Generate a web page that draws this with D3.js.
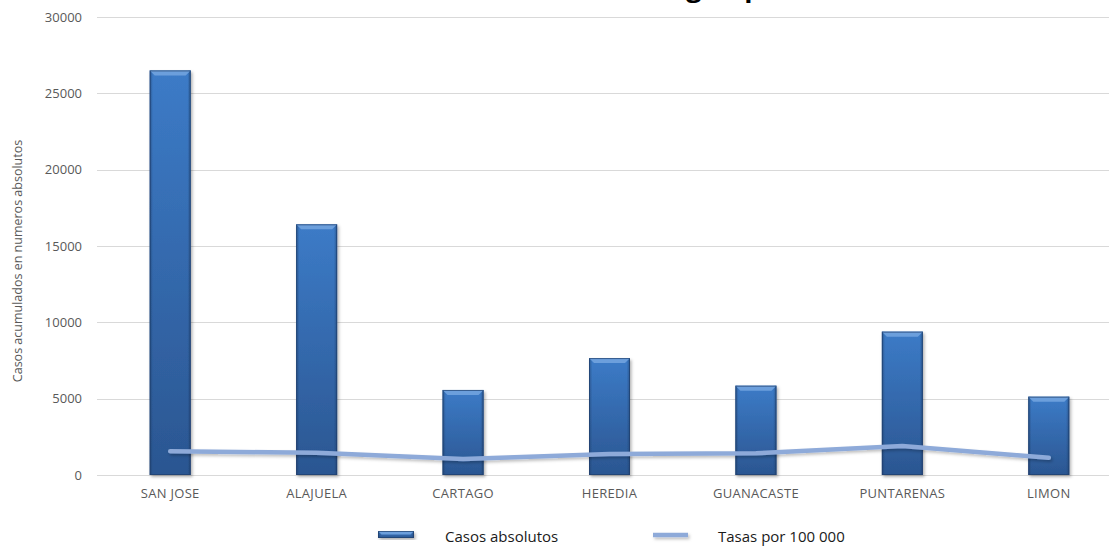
<!DOCTYPE html>
<html>
<head>
<meta charset="utf-8">
<script src="https://cdn.jsdelivr.net/npm/d3@7/dist/d3.min.js"></script>
<style>
  html, body { margin: 0; padding: 0; background: #fff; }
  svg { display: block; }
  text { font-family: "Open Sans", "DejaVu Sans", sans-serif; }
</style>
</head>
<body>
<svg id="chart" width="1109" height="546"></svg>
<script>
const categories = ["SAN JOSE", "ALAJUELA", "CARTAGO", "HEREDIA", "GUANACASTE", "PUNTARENAS", "LIMON"];
const casosAbsolutos = [26500, 16420, 5570, 7660, 5850, 9390, 5130];
const tasasPor100000 = [1550, 1460, 1050, 1375, 1420, 1900, 1130];
const yTicks = [0, 5000, 10000, 15000, 20000, 25000, 30000];
const titleLeft = "Casos acumulados de COVID-19,";
const titleRight = "según provincia del caso, 2020";
const yTitle = "Casos acumulados en numeros absolutos";
const legendLabels = ["Casos absolutos", "Tasas por 100 000"];

const svg = d3.select("#chart");
const W = 1109, H = 546;
const x = d3.scaleBand().domain(categories).range([97, 1122]).paddingInner(0.72).paddingOuter(0.36);
const y = d3.scaleLinear().domain([0, 30000]).range([475, 17]);

const defs = svg.append("defs");
const grad = defs.append("linearGradient").attr("id", "barGrad").attr("x1", 0).attr("y1", 0).attr("x2", 0).attr("y2", 1);
grad.append("stop").attr("offset", "0%").attr("stop-color", "#3c7bc7");
grad.append("stop").attr("offset", "100%").attr("stop-color", "#2b5691");
const sideGrad = defs.append("linearGradient").attr("id", "sideGrad").attr("x1", 0).attr("y1", 0).attr("x2", 1).attr("y2", 0);
sideGrad.append("stop").attr("offset", "0%").attr("stop-color", "#1d3c66").attr("stop-opacity", 0.55);
sideGrad.append("stop").attr("offset", "8%").attr("stop-color", "#1d3c66").attr("stop-opacity", 0);
sideGrad.append("stop").attr("offset", "92%").attr("stop-color", "#1d3c66").attr("stop-opacity", 0);
sideGrad.append("stop").attr("offset", "100%").attr("stop-color", "#1d3c66").attr("stop-opacity", 0.55);
const sh = defs.append("filter").attr("id", "shadow").attr("x", "-20%").attr("y", "-20%").attr("width", "140%").attr("height", "140%");
sh.append("feDropShadow").attr("dx", 1.5).attr("dy", 2).attr("stdDeviation", 1.5).attr("flood-color", "#000").attr("flood-opacity", 0.3);
const sh2 = defs.append("filter").attr("id", "shadowU").attr("filterUnits", "userSpaceOnUse")
  .attr("x", 0).attr("y", 0).attr("width", W).attr("height", H);
sh2.append("feDropShadow").attr("dx", 1.5).attr("dy", 2).attr("stdDeviation", 1.5).attr("flood-color", "#000").attr("flood-opacity", 0.25);

// title (mostly cut off at top, as in the reference)
svg.append("text").attr("x", 614).attr("y", -3.5).attr("text-anchor", "end")
  .attr("font-size", 27).attr("font-weight", "bold").attr("fill", "#000").text(titleLeft);
svg.append("text").attr("x", 657).attr("y", -3.5).attr("text-anchor", "start")
  .attr("font-size", 27).attr("font-weight", "bold").attr("fill", "#000").text(titleRight);

// gridlines
svg.append("g").selectAll("line").data(yTicks).join("line")
  .attr("x1", 97).attr("x2", W).attr("y1", d => Math.round(y(d)) + 0.5).attr("y2", d => Math.round(y(d)) + 0.5)
  .attr("stroke", "#d9d9d9").attr("stroke-width", 1);

// y axis
const yAxis = svg.append("g").attr("transform", "translate(90,0)")
  .call(d3.axisLeft(y).tickValues(yTicks).tickSize(0).tickPadding(8).tickFormat(d3.format("d")));
yAxis.select(".domain").remove();
yAxis.selectAll("text").attr("font-size", 13).attr("fill", "#595959")
  .attr("font-family", "'Open Sans', sans-serif");

svg.append("text").attr("transform", "translate(22,261) rotate(-90)").attr("text-anchor", "middle")
  .attr("font-size", 12.5).attr("fill", "#595959").text(yTitle);

// x axis labels
const xAxis = svg.append("g").attr("transform", "translate(0,475)")
  .call(d3.axisBottom(x).tickSize(0).tickPadding(14));
xAxis.select(".domain").remove();
xAxis.selectAll("text").attr("font-size", 13).attr("fill", "#595959").attr("letter-spacing", "0.3px")
  .attr("font-family", "'Open Sans', sans-serif");

// bars
function drawBar(g, x0, y0, w, h) {
  const bar = g.append("g").attr("filter", "url(#shadow)");
  bar.append("rect").attr("x", x0).attr("y", y0).attr("width", w).attr("height", h).attr("fill", "url(#barGrad)");
  bar.append("rect").attr("x", x0).attr("y", y0).attr("width", w).attr("height", h).attr("fill", "url(#sideGrad)");
  const b = Math.min(5, h / 2);
  bar.append("polygon")
    .attr("points", [[x0, y0], [x0 + w, y0], [x0 + w - b, y0 + b], [x0 + b, y0 + b]].map(p => p.join(",")).join(" "))
    .attr("fill", "#6c9fdc");
  bar.append("rect").attr("x", x0 + 0.5).attr("y", y0 + 0.5).attr("width", w - 1).attr("height", h - 1)
    .attr("fill", "none").attr("stroke", "#1f3e6c").attr("stroke-width", 1).attr("stroke-opacity", 0.7);
}
const barsG = svg.append("g");
categories.forEach((c, i) => {
  const v = casosAbsolutos[i];
  drawBar(barsG, x(c), y(v), x.bandwidth(), y(0) - y(v));
});

// line
const line = d3.line().x((d, i) => x(categories[i]) + x.bandwidth() / 2).y(d => y(d));
svg.append("path").datum(tasasPor100000).attr("d", line).attr("fill", "none")
  .attr("stroke", "#8eaad9").attr("stroke-width", 4.5).attr("stroke-linecap", "round").attr("stroke-linejoin", "round")
  .attr("filter", "url(#shadowU)");

// legend
const lg = svg.append("g");
drawBar(lg, 378, 531, 36, 7);
lg.append("text").attr("x", 445).attr("y", 542).attr("font-size", 15).attr("fill", "#1a1a1a").text(legendLabels[0]);
lg.append("line").attr("x1", 653).attr("x2", 688).attr("y1", 535).attr("y2", 535)
  .attr("stroke", "#8eaad9").attr("stroke-width", 4.5).attr("filter", "url(#shadowU)");
lg.append("text").attr("x", 718).attr("y", 542).attr("font-size", 15).attr("fill", "#1a1a1a").text(legendLabels[1]);
</script>
</body>
</html>
